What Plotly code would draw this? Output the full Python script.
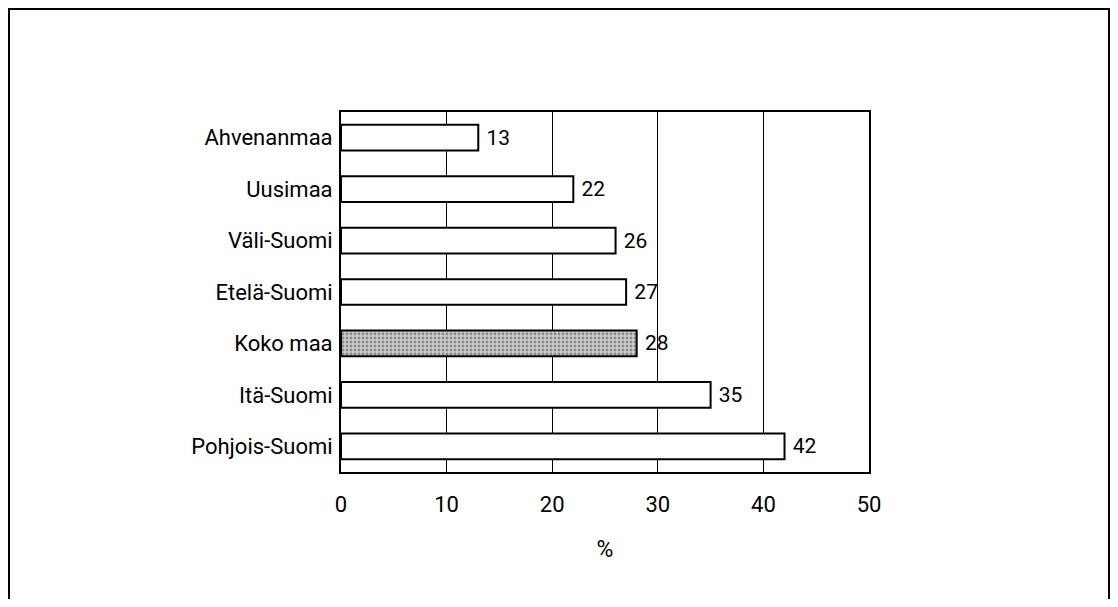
import plotly.graph_objects as go

# regions, top to bottom as in the chart
regions = ["Ahvenanmaa", "Uusimaa", "Väli-Suomi", "Etelä-Suomi", "Koko maa", "Itä-Suomi", "Pohjois-Suomi"]
shares = [13, 22, 26, 27, 28, 35, 42]
x_ticks = [0, 10, 20, 30, 40, 50]

font_family = "Roboto, Liberation Sans Narrow, sans-serif"

# whole country gets the stippled grey fill, the rest white
fills = ["#cfcfcf" if r == "Koko maa" else "white" for r in regions]
patterns = ["." if r == "Koko maa" else "" for r in regions]

fig = go.Figure()
fig.add_trace(go.Bar(
    x=shares,
    y=regions,
    orientation="h",
    marker=dict(
        color=fills,
        line=dict(color="black", width=2),
        pattern=dict(shape=patterns, fgcolor="#444444", bgcolor="#e0e0e0", size=4, solidity=0.4),
    ),
    text=[" " + str(v) for v in shares],
    textposition="outside",
    textfont=dict(family=font_family, size=21, color="black"),
    cliponaxis=False,
))

fig.update_layout(
    width=1102,
    height=591,
    margin=dict(l=333, r=241, t=104, b=127),
    paper_bgcolor="white",
    plot_bgcolor="white",
    showlegend=False,
    bargap=0.5,
    font=dict(family=font_family, size=21, color="black"),
    xaxis=dict(
        range=[0, 50],
        tickvals=x_ticks,
        showgrid=True,
        gridcolor="black",
        gridwidth=1,
        zeroline=False,
        showline=True,
        linecolor="black",
        linewidth=2,
        mirror=True,
        ticks="",
        ticklabelstandoff=12,
        tickfont=dict(size=22),
        title=dict(text="%", font=dict(size=23), standoff=24),
    ),
    yaxis=dict(
        autorange="reversed",
        showgrid=False,
        showline=True,
        linecolor="black",
        linewidth=2,
        mirror=True,
        ticks="",
        ticklabelstandoff=2,
        tickfont=dict(size=22),
    ),
)

# outer frame of the figure
fig.add_shape(
    type="rect",
    xref="paper", yref="paper",
    x0=(9 - 341) / 528, x1=(1109 - 341) / 528,
    y0=(472 - 640) / 360, y1=(472 - 9) / 360,
    line=dict(color="black", width=2),
    fillcolor="rgba(0,0,0,0)",
    layer="below",
)

fig.write_html("out.html")
